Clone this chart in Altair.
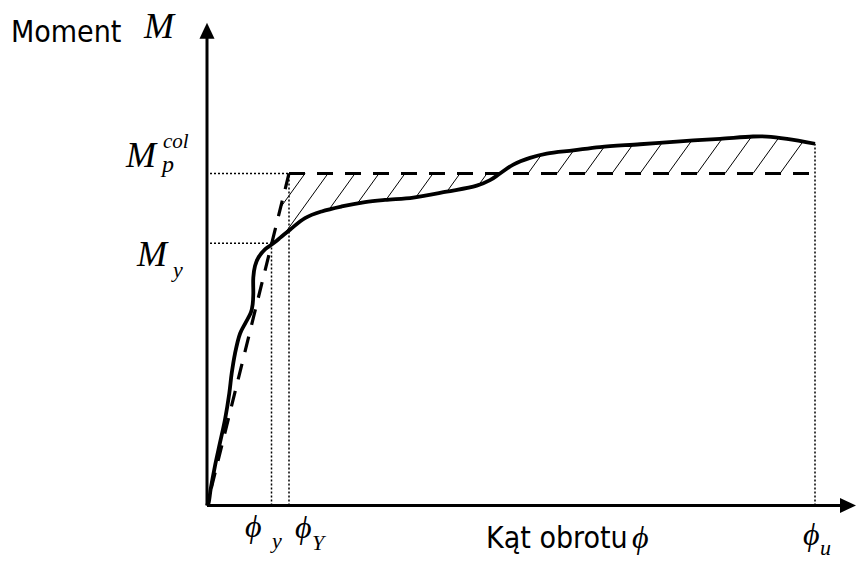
import altair as alt
import pandas as pd
import numpy as np

# ---- data (chart units: rotation phi to the right, moment M upward, origin at axes crossing)
curve_phi = [0, 1.3, 3.7, 8, 13, 18, 22.3, 24.7, 28, 33, 38, 44, 45.7, 46.3, 46.3, 48, 51.3, 58, 64.7,
             73, 83, 98, 114.7, 134.7, 158, 178, 206.3, 239.7, 269.7, 283, 293, 306.3, 323, 339.7, 366.3,
             393, 433, 473, 513, 546, 560, 580, 608]
curve_M = [0, 1.7, 16.7, 40, 63.3, 86.7, 113.3, 133.3, 153.3, 173.3, 183.3, 195, 203.3, 213.3, 230, 241.7,
           250, 258.3, 263.3, 270, 278.3, 290, 296.7, 301.7, 306, 308.3, 310.7, 316.7, 322.7, 328.3, 335,
           344, 350.7, 355, 358.3, 361.7, 364.5, 367.5, 370, 372.3, 372.3, 370, 365]

phi_y, M_y = 64.5, 264.5
phi_Y, M_p = 82, 335
phi_u, M_u = 608, 365
phi_end = 605

hatch_top = [98, 121, 148, 172, 198, 226, 253, 280]           # region where curve is below bilinear
hatch_bottom = [321, 350, 378, 405, 433, 461, 490, 518, 546, 573]  # region where curve is above
hatch_slope = 1.4

x_axis_end, x_tip = 641, 649
y_axis_end, y_tip = 472, 487

XD = [-199, 649]
YD = [-49, 502]
W, H = 848, 551

xs = alt.Scale(domain=XD, zero=False, nice=False)
ys = alt.Scale(domain=YD, zero=False, nice=False)


def X(f="x"):
    return alt.X(f"{f}:Q", scale=xs, axis=None)


def Y(f="y"):
    return alt.Y(f"{f}:Q", scale=ys, axis=None)


# ---- hatch segments computed from the curve and the bilinear idealisation
cphi = np.array(curve_phi, dtype=float)
cM = np.array(curve_M, dtype=float)
mono = cphi >= 48
fx, fy = cphi[mono], cM[mono]


def curve_at(x):
    return np.interp(x, fx, fy)


def bilin_at(x):
    return np.where(x < phi_Y, M_p * x / phi_Y, M_p)


segs = []
for a in hatch_top:
    xx = np.linspace(a, a - 120, 4000)
    line = M_p - hatch_slope * (a - xx)
    out = (line <= curve_at(xx)) | (line >= bilin_at(xx) + 1e-9)
    out[0] = False
    k = np.argmax(out)
    segs.append(dict(x=xx[k], y=line[k], x2=a, y2=M_p))
for b in hatch_bottom:
    xx = np.linspace(b, b + 120, 4000)
    line = M_p + hatch_slope * (xx - b)
    out = line >= curve_at(xx)
    out[0] = False
    k = np.argmax(out)
    segs.append(dict(x=b, y=M_p, x2=xx[k], y2=line[k]))
hatch_df = pd.DataFrame(segs)

curve_df = pd.DataFrame({"x": curve_phi, "y": curve_M, "i": range(len(curve_phi))})

bil_df = pd.DataFrame({
    "x": [phi_Y, 0, phi_Y, phi_end],
    "y": [M_p, 0, M_p, M_p],
    "seg": ["a", "a", "b", "b"],
    "i": [0, 1, 0, 1],
})

dot_df = pd.DataFrame({
    "x": [3, 3, phi_y, phi_Y, phi_u],
    "x2": [phi_y, phi_Y, phi_y, phi_Y, phi_u],
    "y": [M_y, M_p, 0, 0, 0],
    "y2": [M_y, M_p, M_y, M_p, M_u],
})

axis_df = pd.DataFrame({
    "x": [0, 0],
    "x2": [x_axis_end, 0],
    "y": [0, 0],
    "y2": [0, y_axis_end],
})

arrow_df = pd.DataFrame({
    "x": [0, x_tip - 8],
    "y": [y_tip - 8, 0],
    "shape": ["M0,-1L-0.94,1L0.94,1Z", "M1,0L-1,-0.94L-1,0.94Z"],
})

# labels (left x, baseline y) in chart units
sans_labels = pd.DataFrame({"t": ["Moment", "Kąt obrotu"], "x": [-196, 279], "y": [468, -43]})
big_M = pd.DataFrame({"t": ["M", "M", "M"], "x": [-63, -81, -70], "y": [472, 342, 242]})
small_sub = pd.DataFrame({
    "t": ["col", "p", "y", "y", "Y", "u"],
    "x": [-44, -45, -34, 65, 105, 613],
    "y": [361, 337, 231, -43, -45, -50],
    "s": [21, 24, 22, 22, 22, 22],
})
phi_labels = pd.DataFrame({"t": ["ϕ", "ϕ", "ϕ", "ϕ"], "x": [38, 88, 596, 425], "y": [-32, -33, -40, -43]})

FONT_SANS = "DejaVu Sans Condensed, Liberation Sans, sans-serif"
FONT_SERIF = "Liberation Serif, Times New Roman, serif"

axes = alt.Chart(axis_df).mark_rule(color="black", strokeWidth=3).encode(
    x=X(), x2="x2:Q", y=Y(), y2="y2:Q")
arrows = alt.Chart(arrow_df).mark_point(filled=True, color="black", opacity=1, size=256, strokeWidth=0).encode(
    x=X(), y=Y(), shape=alt.Shape("shape:N", scale=None))
dots = alt.Chart(dot_df).mark_rule(color="black", strokeWidth=1.5, strokeDash=[2, 2]).encode(
    x=X(), x2="x2:Q", y=Y(), y2="y2:Q")
hatch = alt.Chart(hatch_df).mark_rule(color="black", strokeWidth=1).encode(
    x=X(), x2="x2:Q", y=Y(), y2="y2:Q")
bil = alt.Chart(bil_df).mark_line(color="black", strokeWidth=3.2, strokeDash=[16, 12]).encode(
    x=X(), y=Y(), detail="seg:N", order="i:Q")
curve = alt.Chart(curve_df).mark_line(color="black", strokeWidth=3.8, interpolate="catmull-rom").encode(
    x=X(), y=Y(), order="i:Q")

t_sans = alt.Chart(sans_labels).mark_text(font=FONT_SANS, fontSize=30, align="left", baseline="alphabetic",
                                          color="black").encode(x=X(), y=Y(), text="t:N")
t_M = alt.Chart(big_M).mark_text(font=FONT_SERIF, fontStyle="italic", fontSize=36, align="left",
                                 baseline="alphabetic", color="black").encode(x=X(), y=Y(), text="t:N")
t_sub = alt.Chart(small_sub).mark_text(font=FONT_SERIF, fontStyle="italic", align="left",
                                       baseline="alphabetic", color="black").encode(
    x=X(), y=Y(), text="t:N", size=alt.Size("s:Q", scale=None))
t_phi = alt.Chart(phi_labels).mark_text(font=FONT_SERIF, fontStyle="italic", fontSize=32, align="left",
                                        baseline="alphabetic", color="black").encode(x=X(), y=Y(), text="t:N")

chart = alt.layer(hatch, dots, bil, curve, axes, arrows, t_sans, t_M, t_sub, t_phi).properties(
    width=W, height=H, padding=0,
    autosize=alt.AutoSizeParams(type="fit", contains="padding"),
    background="white",
).configure_view(stroke=None)

chart.save("out.html", embed_options={"renderer": "svg", "actions": False})
